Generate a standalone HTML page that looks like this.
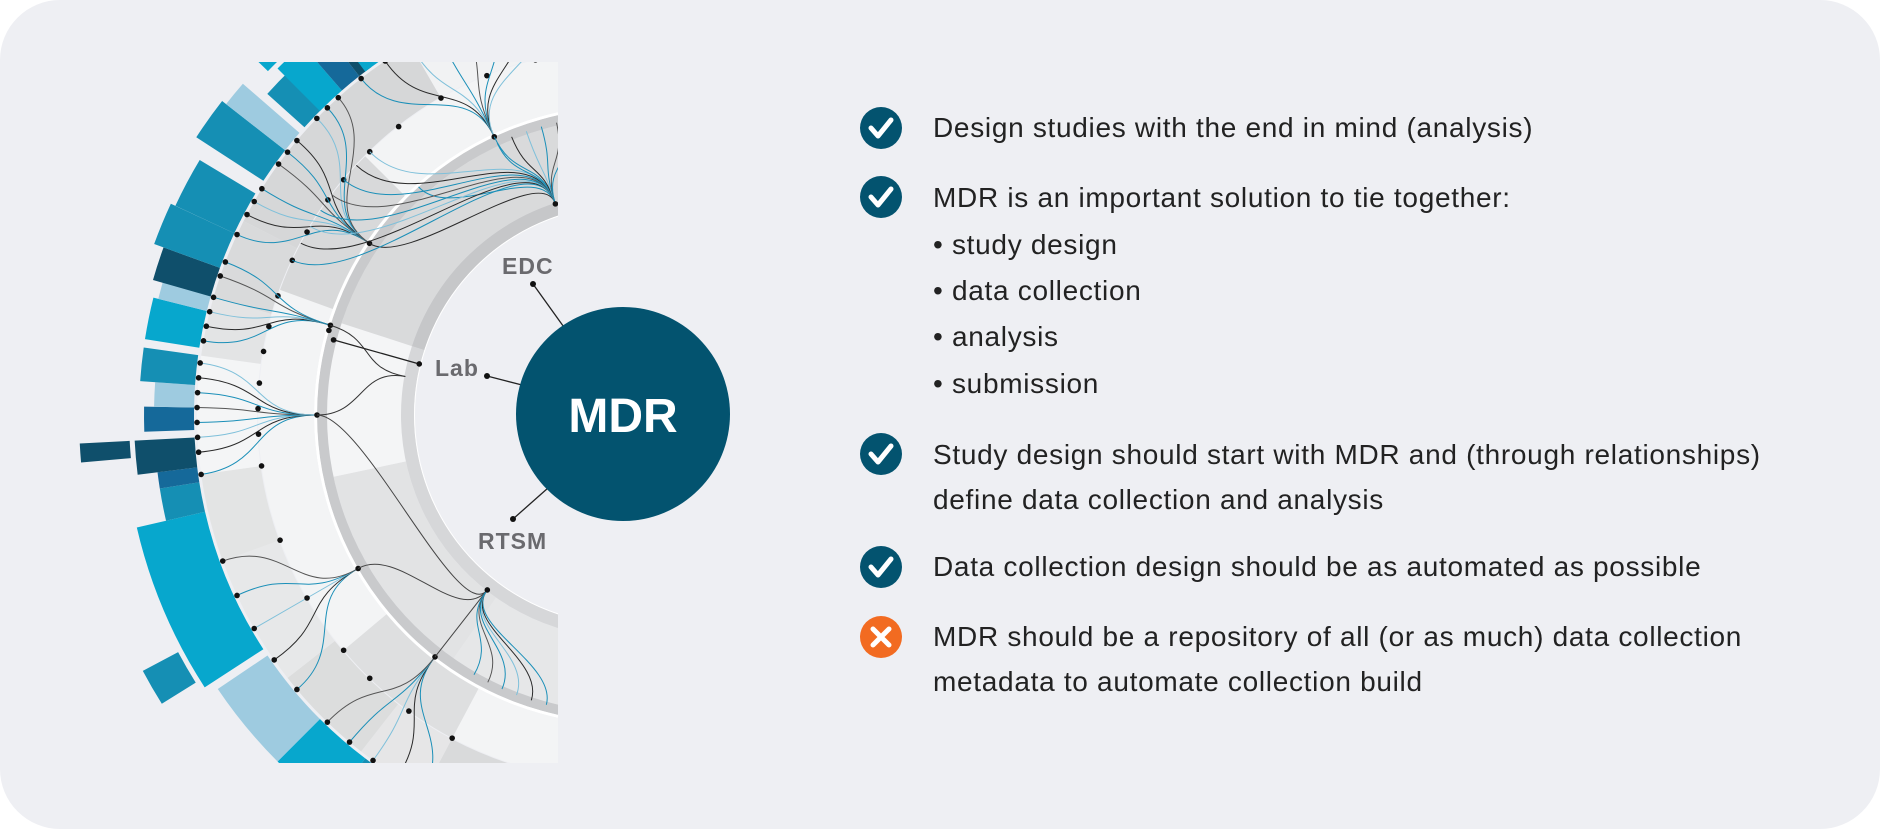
<!DOCTYPE html>
<html><head><meta charset="utf-8">
<style>
html,body{margin:0;padding:0;background:#fff;width:1880px;height:829px;overflow:hidden;}
#wrap{position:relative;width:1880px;height:829px;overflow:hidden;background:#fff;}
#card{position:absolute;left:0;top:0;width:1880px;height:829px;border-radius:60px;background:#eeeff3;}
svg{position:absolute;left:0;top:0;}
.t{position:absolute;left:933px;font-family:"Liberation Sans",sans-serif;font-size:28px;letter-spacing:0.7px;color:#222;white-space:nowrap;line-height:30px;}
.ic{position:absolute;left:859px;width:44px;height:44px;}
</style></head><body>
<div id="wrap"><div id="card"></div>
<svg id="chart" width="1880" height="829" viewBox="0 0 1880 829">
<defs><clipPath id="cp"><rect x="0" y="62" width="558" height="701"/></clipPath></defs>
<g id="g" clip-path="url(#cp)"></g>
<g id="labels">
<line x1="533" y1="284" x2="566" y2="330" stroke="#222" stroke-width="1.3"/><circle cx="533" cy="284" r="3" fill="#111"/>
<line x1="487" y1="376" x2="522" y2="385" stroke="#222" stroke-width="1.3"/><circle cx="487" cy="376" r="3" fill="#111"/>
<line x1="513" y1="519" x2="548" y2="488" stroke="#222" stroke-width="1.3"/><circle cx="513" cy="519" r="3" fill="#111"/>
<circle cx="623" cy="414" r="107" fill="#03536f"/>
<text x="623" y="432" text-anchor="middle" font-family="Liberation Sans, sans-serif" font-weight="bold" font-size="48" fill="#fff">MDR</text>
<text x="502" y="274" font-family="Liberation Sans, sans-serif" font-weight="bold" font-size="23" letter-spacing="1" fill="#6a6a6e">EDC</text>
<text x="435" y="376" font-family="Liberation Sans, sans-serif" font-weight="bold" font-size="23" letter-spacing="1" fill="#6a6a6e">Lab</text>
<text x="478" y="549" font-family="Liberation Sans, sans-serif" font-weight="bold" font-size="23" letter-spacing="1" fill="#6a6a6e">RTSM</text>
</g>
</svg>

<svg class="ic" style="top:106px" viewBox="0 0 44 44"><circle cx="22" cy="22" r="21" fill="#03536f"/><polyline points="12,22 19,30 32,14" fill="none" stroke="#fff" stroke-width="5" stroke-linecap="round" stroke-linejoin="round"/></svg>
<div class="t" style="top:113px">Design studies with the end in mind (analysis)</div>

<svg class="ic" style="top:175px" viewBox="0 0 44 44"><circle cx="22" cy="22" r="21" fill="#03536f"/><polyline points="12,22 19,30 32,14" fill="none" stroke="#fff" stroke-width="5" stroke-linecap="round" stroke-linejoin="round"/></svg>
<div class="t" style="top:183px">MDR is an important solution to tie together:</div>
<div class="t" style="top:230px">• study design</div>
<div class="t" style="top:276px">• data collection</div>
<div class="t" style="top:322px">• analysis</div>
<div class="t" style="top:369px">• submission</div>

<svg class="ic" style="top:432px" viewBox="0 0 44 44"><circle cx="22" cy="22" r="21" fill="#03536f"/><polyline points="12,22 19,30 32,14" fill="none" stroke="#fff" stroke-width="5" stroke-linecap="round" stroke-linejoin="round"/></svg>
<div class="t" style="top:440px">Study design should start with MDR and (through relationships)</div>
<div class="t" style="top:485px">define data collection and analysis</div>

<svg class="ic" style="top:545px" viewBox="0 0 44 44"><circle cx="22" cy="22" r="21" fill="#03536f"/><polyline points="12,22 19,30 32,14" fill="none" stroke="#fff" stroke-width="5" stroke-linecap="round" stroke-linejoin="round"/></svg>
<div class="t" style="top:552px">Data collection design should be as automated as possible</div>

<svg class="ic" style="top:615px" viewBox="0 0 44 44"><circle cx="22" cy="22" r="21" fill="#f26b21"/><path d="M14,14 L30,30 M30,14 L14,30" stroke="#fff" stroke-width="5" stroke-linecap="round"/></svg>
<div class="t" style="top:622px">MDR should be a repository of all (or as much) data collection</div>
<div class="t" style="top:667px">metadata to automate collection build</div>
</div>

<script>
(function(){
var CX=624,CY=415,NS="http://www.w3.org/2000/svg",g=document.getElementById('g');
function P(r,a){a=a*Math.PI/180;return [CX+r*Math.cos(a),CY+r*Math.sin(a)];}
function add(tag,at){var e=document.createElementNS(NS,tag);for(var k in at)e.setAttribute(k,at[k]);g.appendChild(e);return e;}
function sec(r1,r2,a1,a2,fill){
 var p1=P(r1,a1),p2=P(r2,a1),p3=P(r2,a2),p4=P(r1,a2),lg=(a2-a1)>180?1:0;
 add('path',{d:'M'+p1+' L'+p2+' A'+r2+' '+r2+' 0 '+lg+' 1 '+p3+' L'+p4+' A'+r1+' '+r1+' 0 '+lg+' 0 '+p1+' Z',fill:fill});
}
sec(223,297,95,125,'#e6e7e8');sec(223,297,125,168,'#e2e3e4');sec(223,297,168,198,'#f4f5f6');
sec(223,297,198,265,'#d9dadb');
sec(210,223,95,198,'#d6d7d9');sec(210,223,198,265,'#c6c7c9');
sec(209,210,95,265,'#fff');
sec(297,307,95,265,'#c9cacc');
sec(307,310,95,265,'#fff');
sec(310,366,95,265,'#f3f4f5');
sec(310,366,200,225,'#d8d9da');sec(310,366,118,140,'#dedfe0');
var C=[[95,105,'#e4e5e6'],[105,118,'#d9dadb'],[118,128,'#e6e6e7'],[128,142,'#dcdddd'],[142,160,'#e7e8e9'],[160,172,'#e3e4e4'],[172,188,'#f4f5f6'],[188,196,'#e3e4e5'],[196,207,'#d9dadb'],[207,240,'#d6d7d8'],[240,255,'#f1f2f3'],[255,265,'#dcdcdd']];
C.forEach(function(c){sec(367,427,c[0],c[1],c[2]);});
var L='#9ecbe0',Y='#07a7cd',T='#158fb4',D='#0f4f6b',M='#15699a';
var B=[[100,106,L,430,470],[107,112,L,430,480],[114,127,T,430,495],[127,135,Y,430,490],[135,146,L,430,490],[147,167,Y,430,500],
[148,152,T,505,545],[167,171,T,430,470],[171,173,M,430,470],[173,177,D,430,490],[175,177,D,495,545],[178,181,M,430,480],[181,184,L,430,470],
[184,188,T,430,485],[189,194,Y,430,485],[194,198,L,430,480],[196,200,D,430,490],[200,205,T,430,500],[205,211,T,430,495],[213,218,T,430,510],[218,221,L,430,505],
[222,226,T,430,480],[225,229,Y,430,490],[224,228,Y,495,520],[229,232,M,430,500],[232,234,D,430,520],[233,240,Y,430,510],[240,244,L,430,500],[236,241,L,430,500],
[243,250,D,415,470],[250,253,L,430,460],[251,255,M,425,475],[253,259,M,410,470],[259,262,T,420,480],[262,266,M,410,470]];
B.forEach(function(b){sec(b[3],b[4],b[0],b[1],b[2]);});
function cur(r1,a1,r2,a2,col,w){
 var dr=(r1-r2)*0.55,p0=P(r1,a1),c1=P(r1-dr,a1),c2=P(r2+dr,a2),p3=P(r2,a2);
 add('path',{d:'M'+p0+' C'+c1+' '+c2+' '+p3,fill:'none',stroke:col,'stroke-width':w||1});
}
function dot(r,a){var p=P(r,a);add('circle',{cx:p[0],cy:p[1],r:2.8,fill:'#111'});}
var cols=['#1a8fb8','#2a2a2a','#7fc0da','#1a8fb8','#555'];
var hubs=[[307,245,[232,236,240,244,248,252,256,260]],[307,214,[205,208,210,212,216,218,220,224,226,228]],[307,180,[172,175,177,179,181,183,185,187]],[307,197,[190,192,194,196,199,201]],[307,150,[140,145,150,155,160]],[307,128,[118,122,126,130,134]]];
hubs.forEach(function(h,i){
 h[2].forEach(function(a,j){cur(427,a,h[0],h[1],cols[j%cols.length],1);dot(427,a);if(j%2==0)dot(366,a);});
 dot(h[0],h[1]);
});
cur(307,245,222,252,'#1a8fb8',1);cur(307,214,222,252,'#2a2a2a',1);cur(307,228,222,252,'#1a8fb8',1);
for(var k=0;k<8;k++)cur(366,205+k*3,222,252,cols[k%5],1);
cur(307,180,222,190,'#333',1);cur(307,197,222,190,'#333',1);
cur(307,180,222,128,'#444',1);cur(307,150,222,128,'#444',1);cur(307,128,222,128,'#444',1);
for(var k=0;k<6;k++)cur(300,105+k*3,222,128,cols[k%5],1);
for(var k=0;k<6;k++)cur(300,245+k*3,222,252,cols[k%5],1);
dot(222,252);dot(222,128);dot(307,196);
var a=P(300,194.5),b=P(211,194);add('line',{x1:a[0],y1:a[1],x2:b[0],y2:b[1],stroke:'#222','stroke-width':1.3});dot(300,194.5);dot(211,194);
})();
</script>
</body></html>
